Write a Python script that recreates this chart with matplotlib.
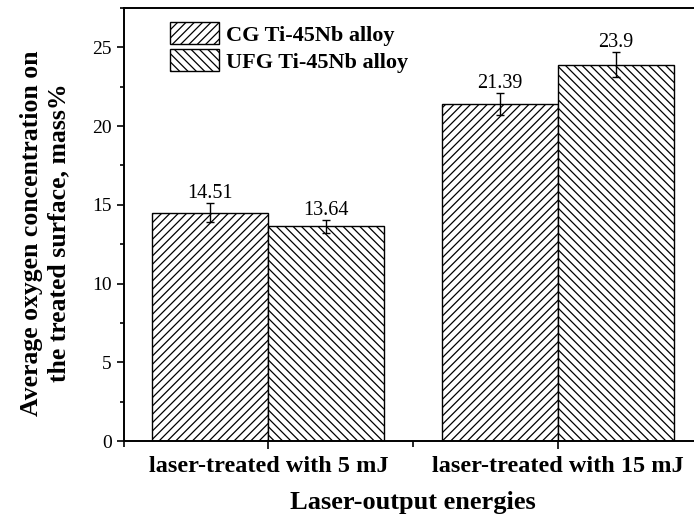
"""
Average oxygen concentration on laser-treated Ti-45Nb surfaces
"""
import matplotlib
matplotlib.use('Agg')
import matplotlib.pyplot as plt
from matplotlib.ticker import MultipleLocator

groups = ['laser-treated with 5 mJ', 'laser-treated with 15 mJ']
series_names = ['CG Ti-45Nb alloy', 'UFG Ti-45Nb alloy']
cg_values = [14.51, 21.39]
ufg_values = [13.64, 23.9]
cg_err = [0.6, 0.7]
ufg_err = [0.4, 0.8]
cg_labels = ['14.51', '21.39']
ufg_labels = ['13.64', '23.9']

plt.rcParams['font.family'] = ['Liberation Serif', 'DejaVu Serif']
plt.rcParams['hatch.linewidth'] = 0.9

fig = plt.figure(figsize=(6.94, 5.23), dpi=100)
ax = fig.add_axes([123.5/694, 1-441/523, (703-123.5)/694, (441-8)/523])

pos = [1, 2]
w = 0.4
left = [p - w/2 for p in pos]
right = [p + w/2 for p in pos]

ax.bar(left, cg_values, width=w, color='white', edgecolor='black',
       hatch='////', linewidth=1.0, label=series_names[0])
ax.bar(right, ufg_values, width=w, color='white', edgecolor='black',
       hatch='\\\\\\\\', linewidth=1.0, label=series_names[1])
ax.errorbar(left, cg_values, yerr=cg_err, fmt='none', ecolor='black',
            elinewidth=1, capsize=3, capthick=1)
ax.errorbar(right, ufg_values, yerr=ufg_err, fmt='none', ecolor='black',
            elinewidth=1, capsize=3, capthick=1)

for x, v, e, t in zip(left + right, cg_values + ufg_values,
                      cg_err + ufg_err, cg_labels + ufg_labels):
    ax.annotate(t, (x, v + e), xytext=(0, 0), textcoords='offset points',
                ha='center', va='bottom', fontsize=14.5)

ax.set_xlim(0.5, 2.5)
ax.set_ylim(0, 27.5)
ax.set_xticks(pos)
ax.set_xticklabels(groups, fontsize=17.5, fontweight='bold')
ax.xaxis.set_minor_locator(MultipleLocator(0.5))
ax.yaxis.set_major_locator(MultipleLocator(5))
ax.yaxis.set_minor_locator(MultipleLocator(2.5))
ax.tick_params(axis='y', which='major', labelsize=14, length=5, width=1.2)
ax.tick_params(axis='y', which='minor', length=3, width=1.2)
ax.tick_params(axis='x', which='major', length=6, width=1.2, pad=5)
ax.tick_params(axis='x', which='minor', length=4, width=1.2)
for s in ax.spines.values():
    s.set_linewidth(1.4)

ax.set_ylabel('Average oxygen concentration on\nthe treated surface, mass%',
              fontsize=18.5, fontweight='bold', linespacing=1.25)
ax.yaxis.set_label_coords(-0.091, 0.48)
ax.set_xlabel('Laser-output energies', fontsize=19, fontweight='bold',
              labelpad=10)

ax.legend(loc='upper left', bbox_to_anchor=(0.055, 1.0), frameon=False,
          prop={'size': 16, 'weight': 'bold'}, handlelength=2.2,
          handleheight=1.15, handletextpad=0.35, labelspacing=0.15,
          borderpad=0.15)

plt.savefig('out.png', dpi=100)
